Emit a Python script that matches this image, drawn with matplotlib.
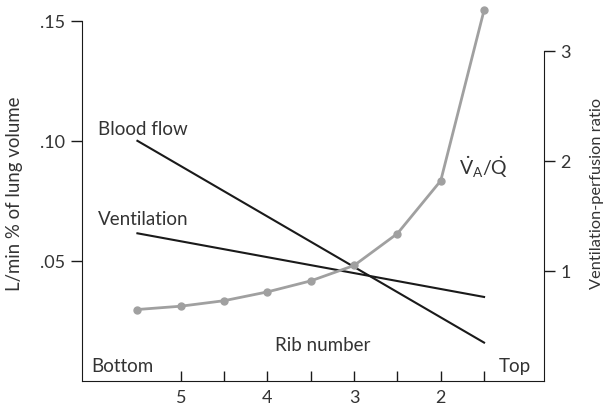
import numpy as np
import matplotlib
matplotlib.use('Agg')
import matplotlib.pyplot as plt

plt.rcParams['font.family'] = ['Lato', 'DejaVu Sans']
plt.rcParams['mathtext.fontset'] = 'custom'
plt.rcParams['mathtext.rm'] = 'Lato'

# ratio curve (right axis)
rib_vq = [5.5, 5.0, 4.5, 4.0, 3.5, 3.0, 2.5, 2.0, 1.5]
vq_ratio = [0.65, 0.68, 0.73, 0.81, 0.91, 1.05, 1.34, 1.82, 3.37]

# straight lines (left axis)
rib_line = [5.5, 1.5]
blood_flow = [0.100, 0.016]
ventilation = [0.0615, 0.035]

rib_ticks = [5, 4.5, 4, 3.5, 3, 2.5, 2, 1.5]
rib_labels = ['5', '', '4', '', '3', '', '2', '']
left_ticks = [0.05, 0.10, 0.15]
left_labels = ['.05', '.10', '.15']
right_ticks = [1, 2, 3]

txt = '#333333'
fig = plt.figure(figsize=(6.07, 4.06), dpi=100)
ax = fig.add_axes([0.135, 0.059, 0.761, 0.929])
ax2 = ax.twinx()

ax.plot(rib_line, blood_flow, color='#1a1a1a', lw=1.5)
ax.plot(rib_line, ventilation, color='#1a1a1a', lw=1.5)
ax2.plot(rib_vq, vq_ratio, color='#a0a0a0', lw=2, marker='o', ms=5)

ax.set_xlim(6.14, 0.81)
ax.set_ylim(0, 0.157)
ax2.set_ylim(0, 3.427)

for a in (ax, ax2):
    a.spines['top'].set_visible(False)
ax.spines['right'].set_visible(False)
ax2.spines['left'].set_visible(False)
ax2.spines['bottom'].set_visible(False)
ax.spines['left'].set_bounds(0, 0.15)
ax2.spines['right'].set_bounds(0, 3)
for s in ('left', 'bottom'):
    ax.spines[s].set_color('#1a1a1a')
ax2.spines['right'].set_color('#1a1a1a')

ax.set_xticks(rib_ticks)
ax.set_xticklabels(rib_labels)
ax.set_yticks(left_ticks)
ax.set_yticklabels(left_labels)
ax2.set_yticks(right_ticks)
ax.tick_params(direction='out', length=8, width=1, colors='#1a1a1a', labelcolor=txt, labelsize=13, pad=4)
ax.tick_params(axis='x', direction='in', length=7, pad=6)
ax2.tick_params(direction='out', length=8, width=1, colors='#1a1a1a', labelcolor=txt, labelsize=13, pad=4)

ax.set_ylabel('L/min % of lung volume', fontsize=13.4, color=txt)
ax.yaxis.set_label_coords(-0.128, 0.5)
ax2.set_ylabel('Ventilation-perfusion ratio', fontsize=11.8, color=txt, labelpad=14)

ax.text(5.96, 0.105, 'Blood flow', fontsize=13.5, color=txt, va='center')
ax.text(5.96, 0.0678, 'Ventilation', fontsize=13.5, color=txt, va='center')
ax.text(6.03, 0.0063, 'Bottom', fontsize=13.5, color=txt, va='center')
ax.text(1.33, 0.0063, 'Top', fontsize=13.5, color=txt, va='center')
ax.text(3.36, 0.0151, 'Rib number', fontsize=13.5, color=txt, ha='center', va='center')
ax2.text(1.51, 1.95, r'$\mathrm{\dot{V}_A/\dot{Q}}$', fontsize=14, color=txt, ha='center', va='center')

fig.savefig('out.png', dpi=100)
